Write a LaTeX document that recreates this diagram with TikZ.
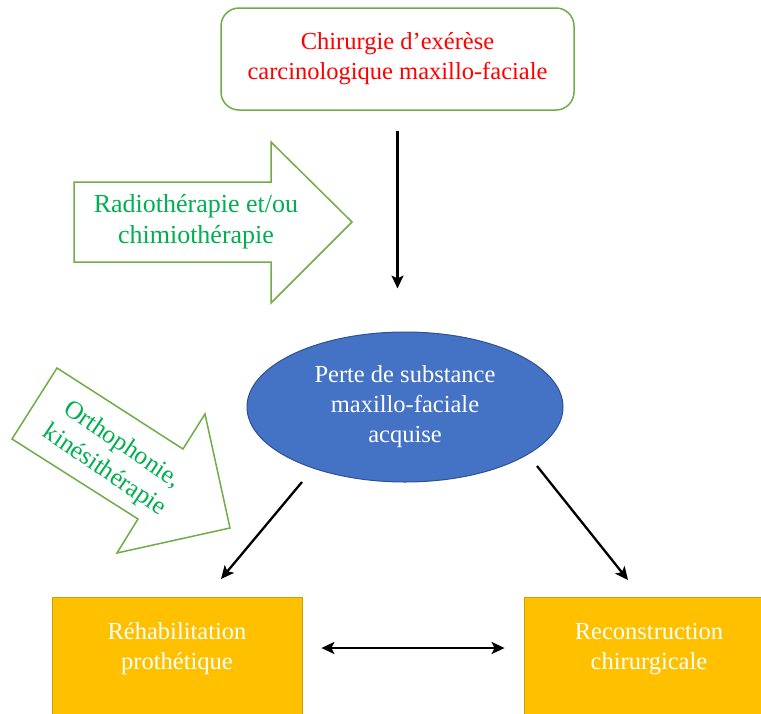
\documentclass[tikz,border=0pt]{standalone}
\usepackage{fontspec}
\setmainfont{Liberation Serif}
\usetikzlibrary{arrows.meta,shapes.geometric}
\definecolor{olgreen}{HTML}{70AD47}
\definecolor{txgreen}{HTML}{00B050}
\definecolor{txred}{HTML}{FF0000}
\definecolor{elblue}{HTML}{4472C4}
\definecolor{elborder}{HTML}{2F528F}
\definecolor{boxorange}{HTML}{FFC000}
\definecolor{boxborder}{HTML}{C9A000}
\tikzset{
  txt/.style={font=\fontsize{24.5}{30}\selectfont, align=center, inner sep=0pt},
  topbox/.style={txt, draw=olgreen, line width=1.5pt, rounded corners=18pt, minimum width=353pt, minimum height=102pt, text=txred},
  lossell/.style={txt, ellipse, fill=elblue, draw=elborder, line width=1pt, minimum width=316pt, minimum height=150pt, text=white},
  treatbox/.style={txt, rectangle, fill=boxorange, draw=boxborder, line width=0.8pt, minimum width=250pt, minimum height=150pt, text=white},
  blockarrow/.style={draw=olgreen, line width=1.5pt, fill=white, line join=miter},
  greentxt/.style={txt, font=\fontsize{26}{31}\selectfont, text=txgreen},
  conn/.style={line width=2.3pt, -{Stealth[length=13pt,width=12pt,inset=3pt]}},
  dconn/.style={line width=2.3pt, {Stealth[length=13pt,width=12pt,inset=3pt]}-{Stealth[length=13pt,width=12pt,inset=3pt]}},
}
\begin{document}
\begin{tikzpicture}[x=1pt,y=-1pt]
\useasboundingbox (0,0) rectangle (761,713);
\clip (0,0) rectangle (761,713);
\fill[white] (0,0) rectangle (761,713);

% block arrows
\draw[blockarrow] (74,182) -- (271,182) -- (271,142) -- (352,222) -- (271,303) -- (271,262) -- (74,262) -- cycle;
\node[greentxt] (radio) at (196,222) {Radiothérapie et/ou\\chimiothérapie};

\draw[blockarrow] (57,368) -- (183,449) -- (205,414) -- (230,528) -- (117,553) -- (138,519) -- (12,439) -- cycle;
\node[greentxt, font=\fontsize{25.5}{31}\selectfont, rotate=-34] (ortho) at (113,458) {Orthophonie,\\kinésithérapie};

% main nodes
\node[topbox] (surg) at (397.5,59) {Chirurgie d’exérèse\\carcinologique maxillo-faciale};
\node[lossell] (pl) at (405,407) {Perte de substance\\maxillo-faciale\\acquise};
\node[treatbox] (reh) at (177,672) {\raisebox{17pt}[0pt][0pt]{\begin{tabular}{@{}c@{}}Réhabilitation\\prothétique\end{tabular}}};
\node[treatbox] (rec) at (649,672) {\raisebox{17pt}[0pt][0pt]{\begin{tabular}{@{}c@{}}Reconstruction\\chirurgicale\end{tabular}}};

% connectors
\draw[conn, shorten <=20pt, shorten >=43pt] (surg.south) -- (surg.south |- pl.north);
\coordinate (dl1) at (302,482);
\coordinate (dl2) at (221,579);
\coordinate (dr1) at (537,466);
\coordinate (dr2) at (628,580);
\draw[conn] (dl1) -- (dl2);
\draw[conn] (dr1) -- (dr2);
\draw[dconn, shorten <=19pt, shorten >=19pt] ([yshift=24pt]reh.east) -- ([yshift=24pt]rec.west);
\end{tikzpicture}
\end{document}
